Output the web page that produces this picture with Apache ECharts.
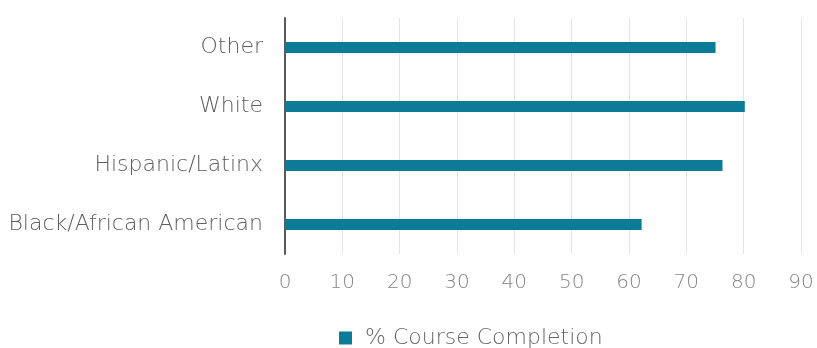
<!DOCTYPE html>
<html><head><meta charset="utf-8">
<script src="https://cdn.jsdelivr.net/npm/echarts@6/dist/echarts.min.js"></script>
<style>html,body{margin:0;padding:0;background:#fff}#c{width:817px;height:348px}</style>
</head><body><div id="c"></div>
<script>
const categories = ["Black/African American", "Hispanic/Latinx", "White", "Other"];
const completion = [62.2, 76.3, 80.2, 75.1];
const seriesName = "% Course Completion";
const xTicks = [0, 90, 10];

const FONT = 'DejaVu Sans';
const chart = echarts.init(document.getElementById('c'));
chart.setOption({
  animation: false,
  legend: {
    top: 322, left: 334,
    itemWidth: 13, itemHeight: 13, itemGap: 10,
    icon: 'rect',
    textStyle: {fontFamily: FONT, fontWeight: 200, fontSize: 22, color: '#666666', padding: [0, 0, 0, 8]},
    data: [seriesName]
  },
  grid: {left: 285, right: 16, top: 18, height: 236},
  xAxis: {
    type: 'value', min: xTicks[0], max: xTicks[1], interval: xTicks[2],
    axisLine: {show: false}, axisTick: {show: false},
    splitLine: {lineStyle: {color: '#e4e4e4', width: 1}},
    axisLabel: {fontFamily: FONT, fontWeight: 200, fontSize: 20, color: '#858585', margin: 19}
  },
  yAxis: {
    type: 'category', data: categories,
    axisLine: {lineStyle: {color: '#5a5a5a', width: 2}},
    axisTick: {show: false},
    axisLabel: {fontFamily: FONT, fontWeight: 200, fontSize: 22, color: '#5e5e5e', margin: 22}
  },
  series: [{
    name: seriesName, type: 'bar', data: completion,
    barWidth: 11,
    itemStyle: {color: '#0b7b97'}
  }]
});
</script></body></html>
